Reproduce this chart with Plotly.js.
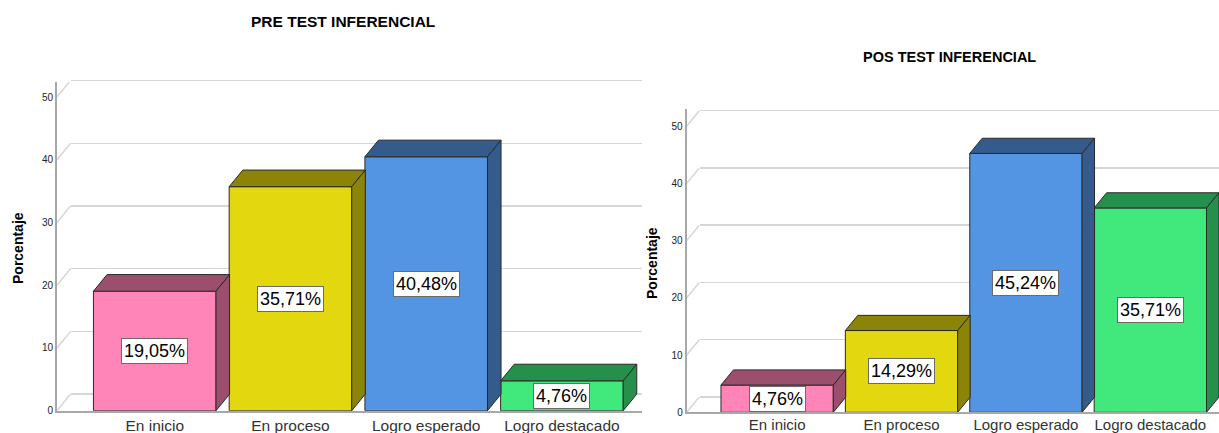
<!DOCTYPE html>
<html>
<head>
<meta charset="utf-8">
<script src="https://cdn.plot.ly/plotly-3.0.1.min.js"></script>
<style>html,body{margin:0;padding:0;background:#fff;}#chart{width:1219px;height:433px;}</style>
</head>
<body>
<div id="chart"></div>
<script>
// ---- data ----
const categories = ['En inicio', 'En proceso', 'Logro esperado', 'Logro destacado'];
const preValues = [19.05, 35.71, 40.48, 4.76];
const posValues = [4.76, 14.29, 45.24, 35.71];
const yTicks = [0, 10, 20, 30, 40, 50];
const preTitle = 'PRE TEST INFERENCIAL';
const posTitle = 'POS TEST INFERENCIAL';
const yTitle = 'Porcentaje';

// ---- style ----
const W = 1219, H = 433;
const frontColors = ['#FF85B8', '#E3D80F', '#5495E3', '#41E97D'];
const darkColors = ['#9C4F6C', '#8C8408', '#345B8C', '#25904B'];
const gridColor = '#d6d6d6';
const axisColor = '#a8a8a8';
const edgeColor = '#2a2a2a';
const FONT = 'Liberation Sans, Arial, sans-serif';
const barWidth = 0.903;
const depthX = 0.10;   // depth in category units
const depthY = 2.65;   // depth in value units

const px = v => v / W;
const py = v => 1 - v / H;

// panel geometry (pixels)
const panels = [
  { values: preValues, title: preTitle, back: ['x', 'y'], front: ['x2', 'y2'],
    xFront: [57, 642], xBack: [71, 642], yFront: [410.7, 82], shiftY: 16.5,
    xRange: [-0.72, 3.59], yRange: [0, 52.4], titleX: 343, titleY: 22, titleSize: 15.5,
    ytX: 18, ytY: 248, catSize: 15.5, catStandoff: 0 },
  { values: posValues, title: posTitle, back: ['x3', 'y3'], front: ['x4', 'y4'],
    xFront: [686.7, 1219], xBack: [700, 1219], yFront: [412.3, 109], shiftY: 15.5,
    xRange: [-0.727, 3.552], yRange: [0, 53], titleX: 949, titleY: 57, titleSize: 14.5,
    ytX: 652, ytY: 263, catSize: 15, catStandoff: -2 }
];

const traces = [];
const layout = {
  width: W, height: H,
  margin: { l: 0, r: 0, t: 0, b: 0 },
  paper_bgcolor: '#ffffff', plot_bgcolor: 'rgba(0,0,0,0)',
  showlegend: false,
  font: { family: FONT, color: '#222' },
  annotations: [], shapes: []
};

function axName(id) { return id.replace(/^(x|y)(\d*)$/, (m, a, n) => a + 'axis' + n); }

const xs = categories.map((c, i) => i);

panels.forEach(p => {
  // back-wall grid axes
  layout[axName(p.back[0])] = {
    domain: [px(p.xBack[0]), px(p.xBack[1])], range: p.xRange, anchor: p.back[1],
    showgrid: false, zeroline: false, showline: false, showticklabels: false, fixedrange: true
  };
  layout[axName(p.back[1])] = {
    domain: [py(p.yFront[0] - p.shiftY), py(p.yFront[1] - p.shiftY)], range: p.yRange, anchor: p.back[0],
    tickvals: yTicks, showgrid: true, gridcolor: gridColor, gridwidth: 1.5,
    zeroline: true, zerolinecolor: gridColor, zerolinewidth: 1.5,
    showline: false, showticklabels: false, fixedrange: true
  };
  traces.push({ type: 'scatter', x: [p.xRange[0]], y: [0], xaxis: p.back[0], yaxis: p.back[1],
    mode: 'markers', marker: { opacity: 0 }, hoverinfo: 'skip' });

  // front axes
  layout[axName(p.front[0])] = {
    domain: [px(p.xFront[0]), px(p.xFront[1])], range: p.xRange, anchor: p.front[1],
    tickvals: xs, ticktext: categories, ticks: '', showgrid: false, zeroline: false,
    showline: true, linecolor: axisColor, linewidth: 2, ticklabelstandoff: p.catStandoff,
    tickfont: { family: FONT, size: p.catSize, color: '#333' }, fixedrange: true
  };
  layout[axName(p.front[1])] = {
    domain: [py(p.yFront[0]), py(p.yFront[1])], range: p.yRange, anchor: p.front[0],
    tickvals: yTicks, ticks: '', showgrid: false, zeroline: false,
    showline: true, linecolor: axisColor, linewidth: 2,
    tickfont: { family: FONT, size: 10, color: '#222' }, fixedrange: true
  };

  // diagonal grid connectors on left wall
  yTicks.forEach(t => {
    layout.shapes.push({ type: 'line', xref: p.front[0], yref: p.front[1], layer: 'below',
      x0: p.xRange[0], y0: t, x1: p.xRange[0] + depthX, y1: t + depthY,
      line: { color: gridColor, width: 1.5 } });
  });

  // front faces
  traces.push({ type: 'bar', x: xs, y: p.values, width: barWidth,
    xaxis: p.front[0], yaxis: p.front[1],
    marker: { color: frontColors, line: { color: edgeColor, width: 1 } }, hoverinfo: 'skip' });

  // top and side faces
  p.values.forEach((v, i) => {
    const l = i - barWidth / 2, r = i + barWidth / 2;
    traces.push({ type: 'scatter', xaxis: p.front[0], yaxis: p.front[1], mode: 'lines',
      x: [l, l + depthX, r + depthX, r, l], y: [v, v + depthY, v + depthY, v, v],
      fill: 'toself', fillcolor: darkColors[i], line: { color: edgeColor, width: 1 }, hoverinfo: 'skip' });
    traces.push({ type: 'scatter', xaxis: p.front[0], yaxis: p.front[1], mode: 'lines',
      x: [r, r + depthX, r + depthX, r, r], y: [v, v + depthY, depthY, 0, v],
      fill: 'toself', fillcolor: darkColors[i], line: { color: edgeColor, width: 1 }, hoverinfo: 'skip' });
    layout.annotations.push({ xref: p.front[0], yref: p.front[1], x: i, y: v / 2,
      text: v.toFixed(2).replace('.', ',') + '%', showarrow: false,
      bgcolor: '#ffffff', bordercolor: '#6a6a6a', borderwidth: 1, borderpad: 2,
      font: { family: FONT, size: 18, color: '#000' } });
  });

  layout.annotations.push({ xref: 'paper', yref: 'paper', x: px(p.titleX), y: py(p.titleY),
    text: '<b>' + p.title + '</b>', showarrow: false, xanchor: 'center', yanchor: 'middle',
    font: { family: FONT, size: p.titleSize, color: '#000' } });
  layout.annotations.push({ xref: 'paper', yref: 'paper', x: px(p.ytX), y: py(p.ytY),
    text: '<b>' + yTitle + '</b>', showarrow: false, textangle: -90, xanchor: 'center', yanchor: 'middle',
    font: { family: FONT, size: 14, color: '#000' } });
});

Plotly.newPlot('chart', traces, layout, { staticPlot: true, displayModeBar: false });
</script>
</body>
</html>
